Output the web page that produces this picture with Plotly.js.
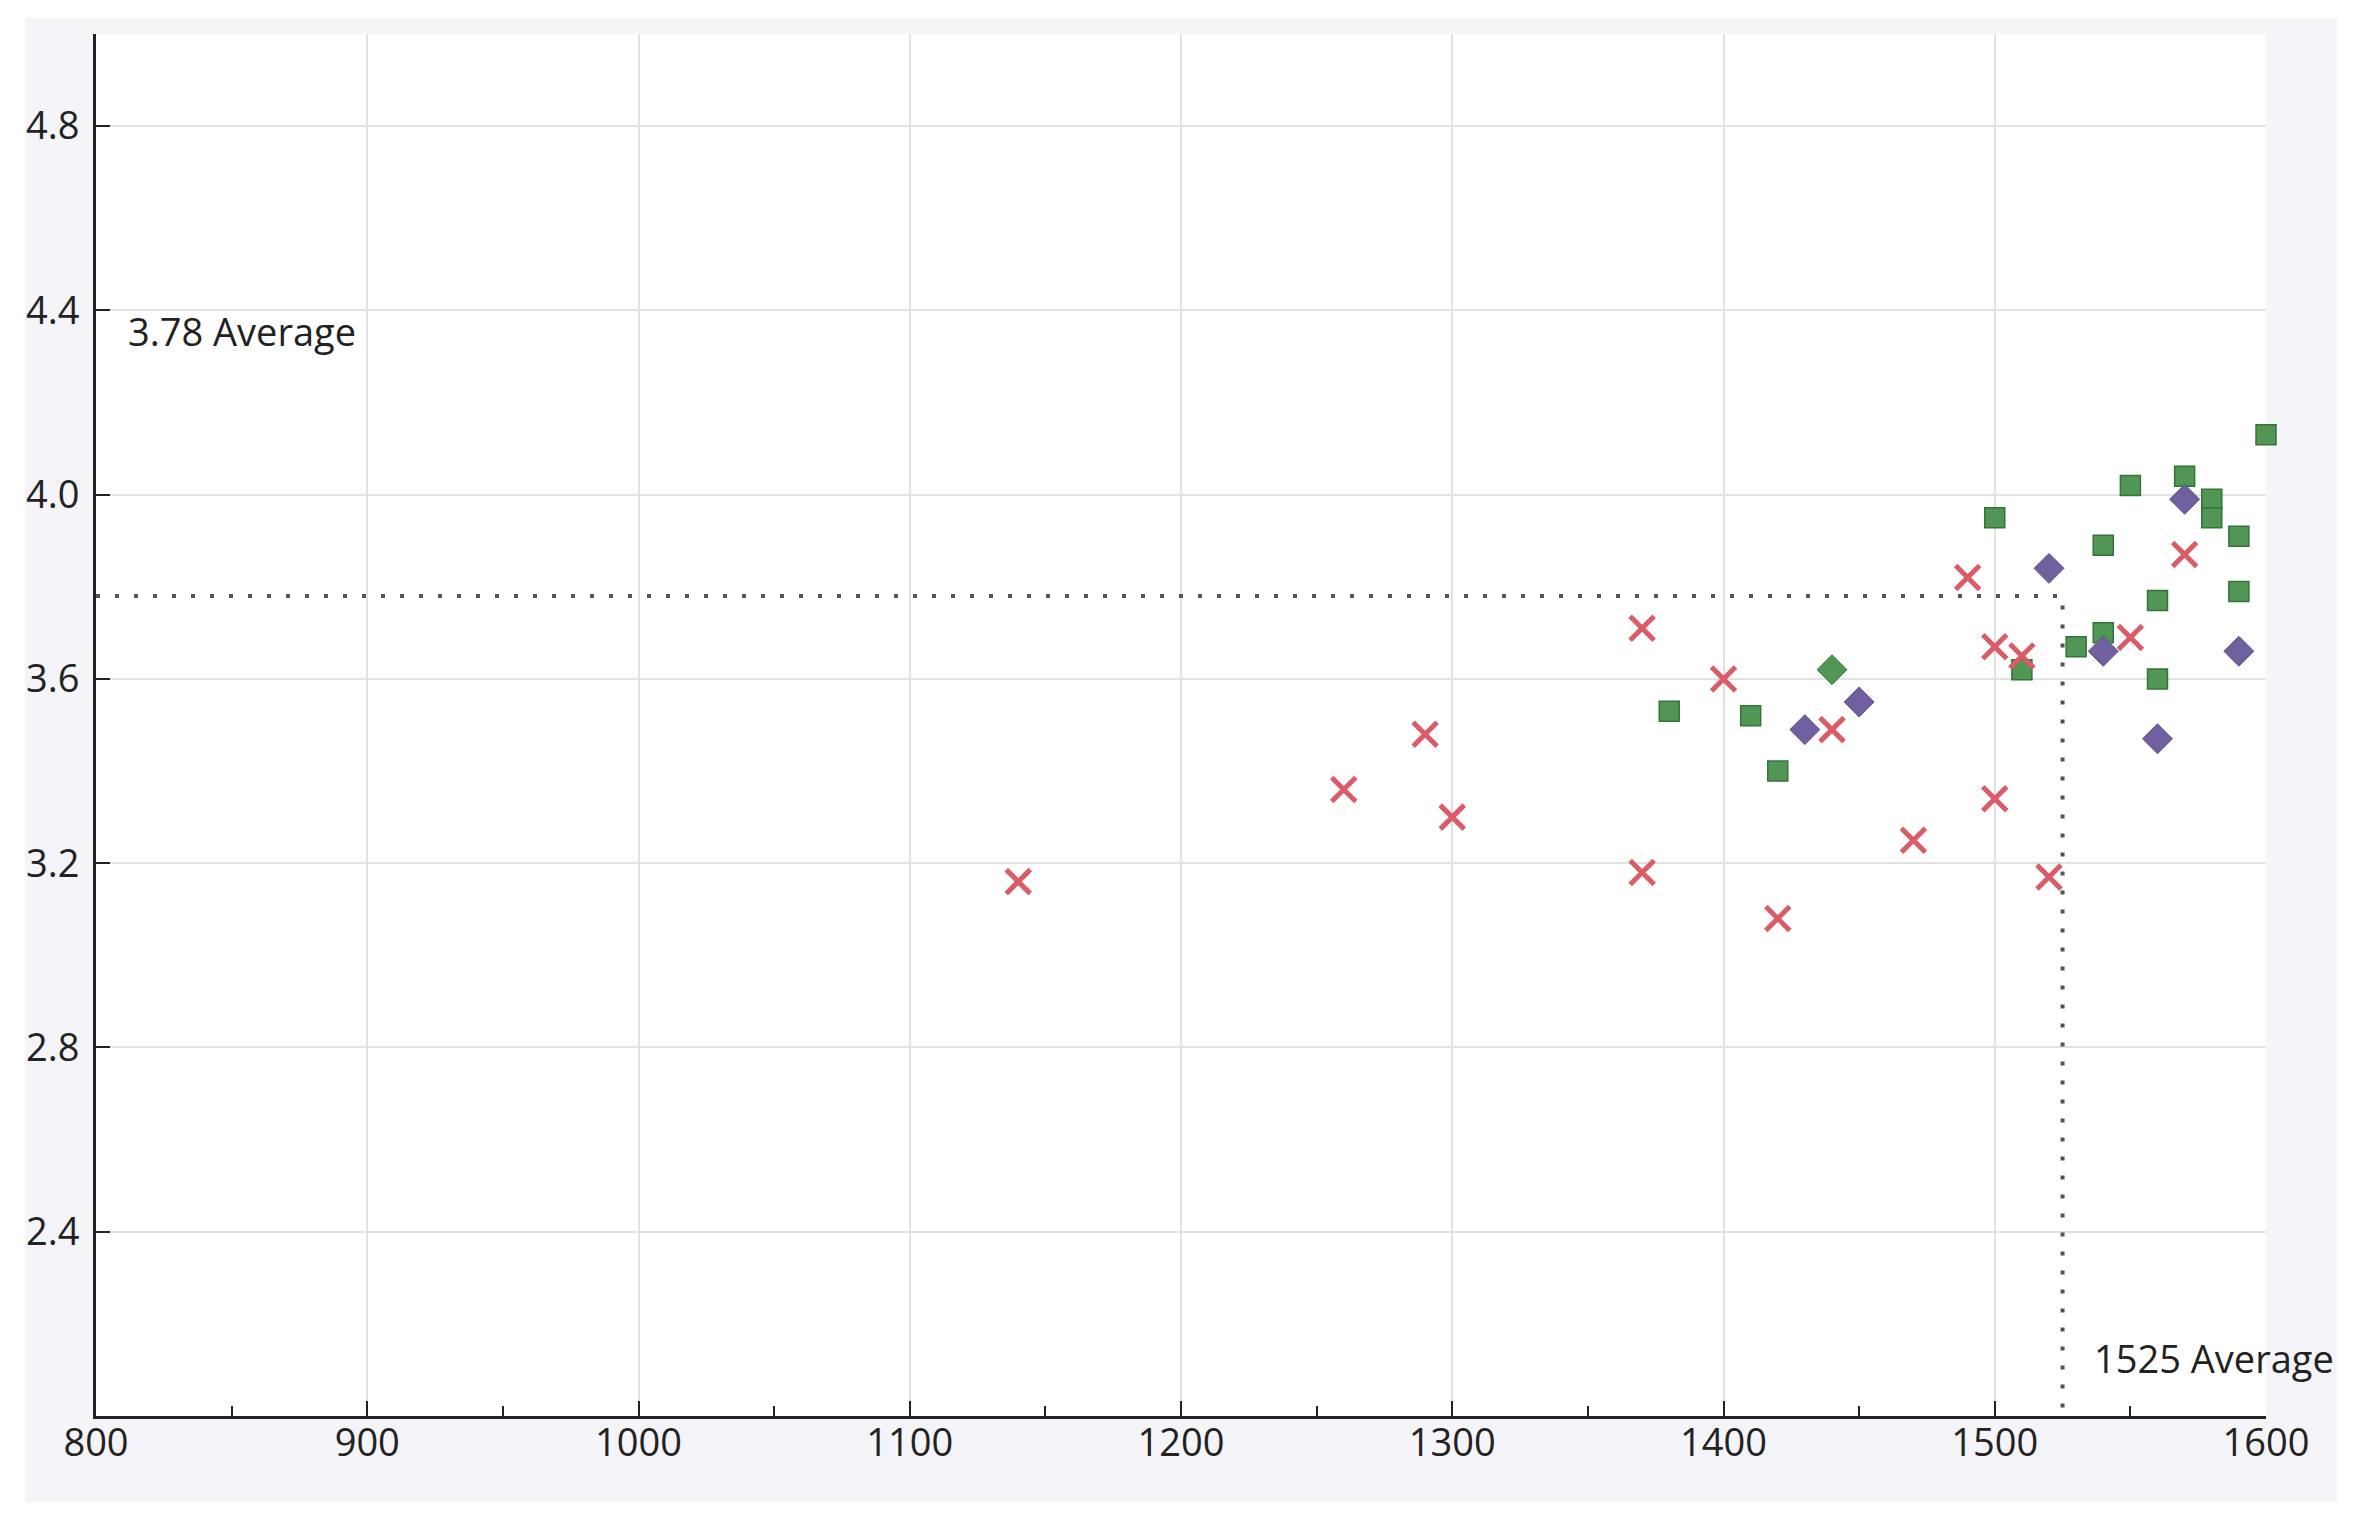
<!DOCTYPE html>
<html>
<head>
<meta charset="utf-8">
<script src="https://cdn.plot.ly/plotly-3.0.1.min.js"></script>
<style>
  html, body { margin: 0; padding: 0; background: #ffffff; }
  #chart { position: absolute; left: 25px; top: 18px; width: 2312px; height: 1484px; }
</style>
</head>
<body>
<div id="chart"></div>
<script>
// ---- Data ----
const redX = [1140, 1260, 1290, 1300, 1370, 1370, 1400, 1420, 1440, 1470, 1490, 1500, 1500, 1510, 1520, 1550, 1570];
const redY = [3.16, 3.36, 3.48, 3.30, 3.71, 3.18, 3.60, 3.08, 3.49, 3.25, 3.82, 3.67, 3.34, 3.65, 3.17, 3.69, 3.87];

const greenSqX = [1380, 1410, 1420, 1500, 1510, 1530, 1540, 1540, 1550, 1560, 1560, 1570, 1580, 1580, 1590, 1590, 1600];
const greenSqY = [3.53, 3.52, 3.40, 3.95, 3.62, 3.67, 3.89, 3.70, 4.02, 3.77, 3.60, 4.04, 3.99, 3.95, 3.91, 3.79, 4.13];

const purpleDiaX = [1430, 1450, 1520, 1540, 1560, 1570, 1590];
const purpleDiaY = [3.49, 3.55, 3.84, 3.66, 3.47, 3.99, 3.66];

const greenDiaX = [1440];
const greenDiaY = [3.62];

const avgX = 1525;
const avgY = 3.78;
const avgXLabel = "1525 Average";
const avgYLabel = "3.78 Average";

const xRange = [800, 1600];
const yRange = [2.0, 5.0];
const xTickVals = [800, 900, 1000, 1100, 1200, 1300, 1400, 1500, 1600];
const xTickText = ["800", "900", "1000", "1100", "1200", "1300", "1400", "1500", "1600"];
const yTickVals = [2.4, 2.8, 3.2, 3.6, 4.0, 4.4, 4.8];
const yTickText = ["2.4", "2.8", "3.2", "3.6", "4.0", "4.4", "4.8"];

// ---- Styles ----
const RED = "rgb(218, 92, 104)";
const GREEN = "rgb(82, 150, 86)";
const GREEN_EDGE = "rgb(52, 115, 58)";
const PURPLE = "rgb(112, 96, 160)";
const PURPLE_EDGE = "rgb(92, 78, 140)";
const TEXT = "#222222";
const FONT = "Open Sans, Noto Sans, sans-serif";
const FS = 38;

const traces = [
  {
    x: [xRange[0], avgX, avgX],
    y: [avgY, avgY, yRange[0]],
    mode: "lines",
    line: { color: "#555555", width: 4, dash: "4px,15px" },
    hoverinfo: "skip",
    showlegend: false,
    cliponaxis: false
  },
  {
    x: greenSqX, y: greenSqY, mode: "markers", showlegend: false, cliponaxis: false,
    marker: { symbol: "square", size: 20, color: GREEN, line: { color: GREEN_EDGE, width: 1.5 } }
  },
  {
    x: greenDiaX, y: greenDiaY, mode: "markers", showlegend: false, cliponaxis: false,
    marker: { symbol: "diamond", size: 23, color: GREEN, line: { color: GREEN_EDGE, width: 1 } }
  },
  {
    x: purpleDiaX, y: purpleDiaY, mode: "markers", showlegend: false, cliponaxis: false,
    marker: { symbol: "diamond", size: 23, color: PURPLE, line: { color: PURPLE_EDGE, width: 1 } }
  },
  {
    x: redX, y: redY, mode: "markers", showlegend: false, cliponaxis: false,
    marker: { symbol: "x-thin", size: 24, color: RED, line: { color: RED, width: 5 } }
  }
];

const layout = {
  width: 2312,
  height: 1484,
  paper_bgcolor: "rgb(244, 244, 249)",
  plot_bgcolor: "#ffffff",
  margin: { l: 71, r: 71, t: 16, b: 86, pad: 0 },
  font: { family: FONT, size: FS, color: TEXT },
  showlegend: false,
  xaxis: {
    range: xRange,
    tickmode: "array",
    tickvals: xTickVals,
    ticktext: xTickText,
    ticks: "inside",
    ticklen: 15,
    tickwidth: 2,
    tickcolor: "#222222",
    showline: true,
    linecolor: "#222222",
    linewidth: 3,
    mirror: false,
    showgrid: true,
    gridcolor: "#e2e2e2",
    gridwidth: 2,
    zeroline: false,
    ticklabelstandoff: -9,
    tickfont: { family: FONT, size: FS, color: TEXT },
    minor: { ticks: "inside", ticklen: 10, tickwidth: 2, tickcolor: "#222222", dtick: 50, tick0: 800, showgrid: false }
  },
  yaxis: {
    range: yRange,
    tickmode: "array",
    tickvals: yTickVals,
    ticktext: yTickText,
    ticks: "inside",
    ticklen: 14,
    tickwidth: 2,
    tickcolor: "#222222",
    showline: true,
    linecolor: "#222222",
    linewidth: 3,
    mirror: false,
    showgrid: true,
    gridcolor: "#e2e2e2",
    gridwidth: 2,
    zeroline: false,
    ticklabelstandoff: 6,
    tickfont: { family: FONT, size: FS, color: TEXT }
  },
  annotations: [
    {
      x: 811, y: 4.355, xref: "x", yref: "y",
      text: avgYLabel, showarrow: false, xanchor: "left", yanchor: "middle",
      font: { family: FONT, size: FS, color: TEXT }
    },
    {
      x: 1536, y: 2.125, xref: "x", yref: "y",
      text: avgXLabel, showarrow: false, xanchor: "left", yanchor: "middle",
      font: { family: FONT, size: FS, color: TEXT }
    }
  ]
};

Plotly.newPlot("chart", traces, layout, { staticPlot: true, displayModeBar: false });
</script>
</body>
</html>
